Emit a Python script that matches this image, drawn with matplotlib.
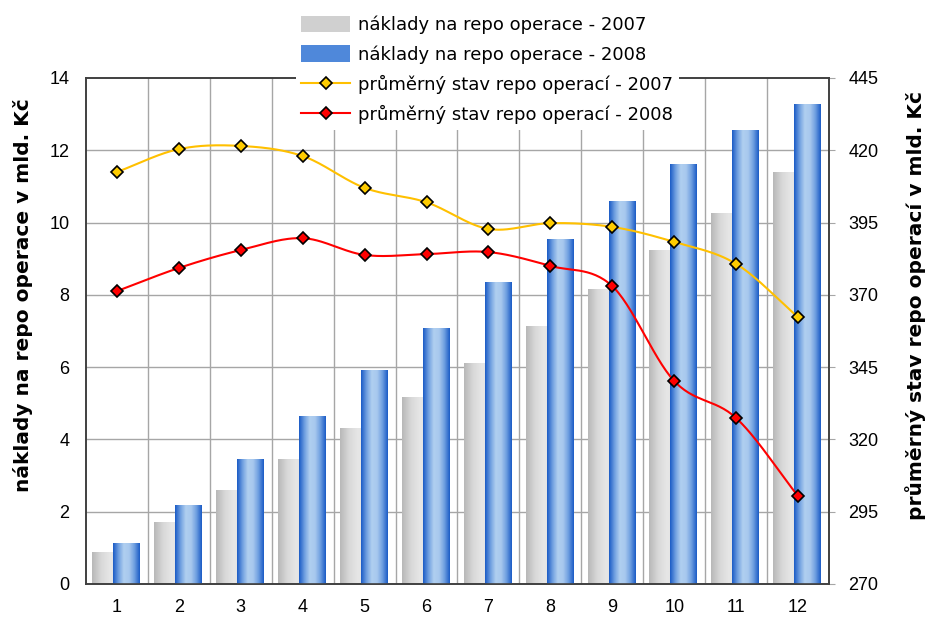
import numpy as np
import matplotlib
matplotlib.use("Agg")
import matplotlib.pyplot as plt
from matplotlib.lines import Line2D
from matplotlib.patches import Patch
from matplotlib.colors import LinearSegmentedColormap

plt.rcParams['font.family'] = ['Liberation Sans', 'DejaVu Sans']

months = [1, 2, 3, 4, 5, 6, 7, 8, 9, 10, 11, 12]
costs_2007 = [0.88, 1.72, 2.60, 3.46, 4.32, 5.17, 6.11, 7.14, 8.17, 9.24, 10.26, 11.40]
costs_2008 = [1.13, 2.19, 3.46, 4.65, 5.92, 7.08, 8.36, 9.55, 10.60, 11.62, 12.56, 13.28]
avg_2007 = [412.5, 420.4, 421.5, 418.0, 407.0, 402.0, 392.8, 394.8, 393.5, 388.3, 380.7, 362.3]
avg_2008 = [371.3, 379.3, 385.5, 389.6, 383.8, 384.1, 384.8, 380.0, 373.0, 340.2, 327.4, 300.4]

label_c07 = "náklady na repo operace - 2007"
label_c08 = "náklady na repo operace - 2008"
label_a07 = "průměrný stav repo operací - 2007"
label_a08 = "průměrný stav repo operací - 2008"
ylabel_left = "náklady na repo operace v mld. Kč"
ylabel_right = "průměrný stav repo operací v mld. Kč"


def smooth(xs, ys, n=30):
    xs = np.asarray(xs, float)
    ys = np.asarray(ys, float)
    px = np.concatenate([[2 * xs[0] - xs[1]], xs, [2 * xs[-1] - xs[-2]]])
    py = np.concatenate([[2 * ys[0] - ys[1]], ys, [2 * ys[-1] - ys[-2]]])
    ox, oy = [], []
    t = np.linspace(0, 1, n, endpoint=False)
    for i in range(1, len(px) - 2):
        for arr, out in ((px, ox), (py, oy)):
            p0, p1, p2, p3 = arr[i - 1], arr[i], arr[i + 1], arr[i + 2]
            out.extend(0.5 * ((2 * p1) + (-p0 + p2) * t + (2 * p0 - 5 * p1 + 4 * p2 - p3) * t ** 2
                              + (-p0 + 3 * p1 - 3 * p2 + p3) * t ** 3))
    ox.append(xs[-1]); oy.append(ys[-1])
    return np.array(ox), np.array(oy)


fig = plt.figure(figsize=(9.27, 6.24), dpi=100)
ax = fig.add_axes([86 / 927, 1 - 584 / 624, (829 - 86) / 927, (584 - 78) / 624])
ax2 = ax.twinx()

x = np.arange(len(months))
w = 0.42
off = 0.17

gray_cmap = LinearSegmentedColormap.from_list("g", ["#b8b8b8", "#d8d8d8", "#e6e6e6", "#e2e2e2"])
blue_cmap = LinearSegmentedColormap.from_list("b", ["#1c5cc6", "#6f9fe0", "#b0cff0", "#a8c8ee", "#6f9fe0", "#1c5cc6"])
grad = np.linspace(0, 1, 64).reshape(1, -1)

bars07 = ax.bar(x - off - 0.02, costs_2007, width=w, color="none", edgecolor="none", zorder=2)
bars08 = ax.bar(x + off - 0.02, costs_2008, width=w, color="none", edgecolor="none", zorder=3)
for bars, cmap, z in ((bars07, gray_cmap, 2), (bars08, blue_cmap, 3)):
    for b in bars:
        x0, y0 = b.get_x(), b.get_y()
        im = ax.imshow(grad, cmap=cmap, aspect="auto", extent=(x0, x0 + b.get_width(), y0, y0 + b.get_height()),
                       zorder=z, interpolation="bilinear")
        im.set_clip_path(b)

ax.set_xlim(-0.5, len(months) - 0.5)
ax.set_ylim(0, 14)
ax.set_yticks(np.arange(0, 15, 2))
ax.set_xticks(x)
ax.set_xticklabels([str(m) for m in months])
for xb in np.arange(0.5, len(months) - 0.5, 1):
    ax.axvline(xb, color="#a6a6a6", lw=1, zorder=1)
for yv in np.arange(2, 14, 2):
    ax.axhline(yv, color="#a6a6a6", lw=1, zorder=1)

ax2.set_ylim(270, 445)
ax2.set_yticks(np.arange(270, 446, 25))

for yvals, lc, mc in ((avg_2007, "#FFC000", "#FFCC00"), (avg_2008, "#FF0000", "#FF0000")):
    sx, sy = smooth(x, yvals)
    ax2.plot(sx, sy, color=lc, lw=1.5, zorder=4)
    ax2.plot(x, yvals, ls="none", marker="D", ms=6.5, mfc=mc, mec="black", mew=1.2, zorder=5)

for a in (ax, ax2):
    for s in a.spines.values():
        s.set_color("#404040")
        s.set_linewidth(1.2)

ax.tick_params(axis="x", length=0, pad=11, labelsize=13)
ax.tick_params(axis="y", length=0, pad=12, labelsize=13)
ax2.tick_params(axis="y", length=4, color="#a6a6a6", pad=10, labelsize=13)

ax.set_ylabel(ylabel_left, fontsize=14.5, fontweight="bold", family="DejaVu Sans")
ax2.set_ylabel(ylabel_right, fontsize=14.5, fontweight="bold", family="DejaVu Sans")
ax.yaxis.set_label_coords((33 - 86) / 743, (584 - 295) / 506)
ax2.yaxis.set_label_coords((905 - 86) / 743, (584 - 305) / 506)

handles = [
    Patch(facecolor="#d0d0d0", edgecolor="none"),
    Patch(facecolor="#4f88da", edgecolor="none"),
    Line2D([0], [0], color="#FFC000", lw=1.5, marker="D", ms=6, mfc="#FFCC00", mec="black", mew=1.2),
    Line2D([0], [0], color="#FF0000", lw=1.5, marker="D", ms=6, mfc="#FF0000", mec="black", mew=1.2),
]
leg = fig.legend(handles, [label_c07, label_c08, label_a07, label_a08], loc="upper left",
                 bbox_to_anchor=(287 / 927, 1 - 1 / 624), frameon=True,
                 prop={"family": "DejaVu Sans", "size": 13},
                 handlelength=2.7, handleheight=1.0, handletextpad=0.45, labelspacing=0.62,
                 borderpad=0.3, fancybox=False, edgecolor="none", facecolor="white", framealpha=1)

fig.savefig("out.png", dpi=100)
